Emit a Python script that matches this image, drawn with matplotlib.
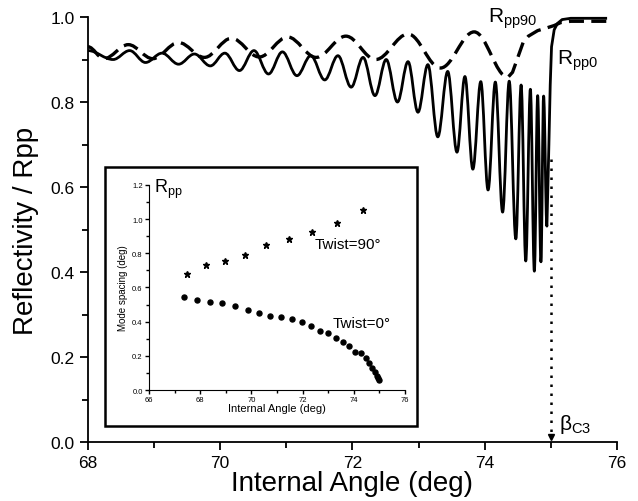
import numpy as np
import matplotlib
matplotlib.use("Agg")
import matplotlib.pyplot as plt
from matplotlib.path import Path
from matplotlib.patches import PathPatch, Rectangle

plt.rcParams['font.family'] = ['Liberation Sans', 'DejaVu Sans']

# main curve Rpp0 : peaks / troughs
rpp0_x = [68.00, 68.38, 68.63, 68.87, 69.12, 69.37, 69.61, 69.85, 70.07, 70.29,
          70.51, 70.73, 70.94, 71.16, 71.37, 71.58, 71.78, 71.98, 72.16, 72.34,
          72.51, 72.68, 72.84, 72.99, 73.14, 73.29, 73.44, 73.58, 73.70, 73.82,
          73.94, 74.05, 74.16, 74.27, 74.37, 74.47, 74.55, 74.62, 74.69, 74.75,
          74.80, 74.85, 74.89, 74.94]
rpp0_y = [0.921, 0.900, 0.921, 0.893, 0.915, 0.889, 0.913, 0.885, 0.915, 0.874,
          0.921, 0.866, 0.918, 0.862, 0.909, 0.852, 0.909, 0.835, 0.905, 0.815,
          0.900, 0.800, 0.895, 0.776, 0.888, 0.718, 0.872, 0.682, 0.860, 0.642,
          0.848, 0.593, 0.847, 0.541, 0.849, 0.478, 0.840, 0.426, 0.830, 0.402,
          0.815, 0.424, 0.814, 0.508]
rpp0_tail_x = [74.97, 74.99, 75.01, 75.05, 75.10, 75.17, 75.30, 75.85]
rpp0_tail_y = [0.700, 0.840, 0.930, 0.970, 0.985, 0.994, 0.997, 0.997]

# Rpp90 (dashed)
rpp90_x = [68.00, 68.24, 68.61, 68.98, 69.37, 69.76, 70.17, 70.59, 71.02, 71.45,
           71.90, 72.35, 72.84, 73.33, 73.84, 74.35]
rpp90_y = [0.930, 0.902, 0.935, 0.902, 0.940, 0.905, 0.950, 0.906, 0.953, 0.905,
           0.955, 0.900, 0.960, 0.880, 0.965, 0.858]
rpp90_tail_x = [74.42, 74.50, 74.58, 74.66, 74.80, 74.95, 75.05, 75.15, 75.30, 75.85]
rpp90_tail_y = [0.870, 0.905, 0.940, 0.955, 0.968, 0.975, 0.980, 0.987, 0.990, 0.990]

beta_c3 = 75.0

# inset: mode spacing
tw90_x = [67.49, 68.24, 68.98, 69.76, 70.59, 71.45, 72.35, 73.33, 74.35]
tw90_y = [0.678, 0.731, 0.754, 0.789, 0.848, 0.883, 0.924, 0.977, 1.053]
tw0_x = [67.37, 67.89, 68.38, 68.87, 69.37, 69.85, 70.29, 70.73, 71.16, 71.58,
         71.98, 72.34, 72.68, 72.99, 73.29, 73.58, 73.82, 74.05, 74.27, 74.47,
         74.60, 74.73, 74.82, 74.89, 74.95, 74.99]
tw0_y = [0.545, 0.525, 0.518, 0.509, 0.490, 0.467, 0.453, 0.433, 0.429, 0.415,
         0.399, 0.377, 0.345, 0.333, 0.304, 0.279, 0.260, 0.224, 0.216, 0.185,
         0.158, 0.129, 0.104, 0.084, 0.070, 0.058]


def wave_path(xs, ys, tx, ty, k=0.36):
    # smooth curve through extrema (horizontal tangent at each), then straight tail
    verts = [(xs[0], ys[0])]
    codes = [Path.MOVETO]
    for i in range(1, len(xs)):
        d = (xs[i] - xs[i-1]) * k
        verts += [(xs[i-1] + d, ys[i-1]), (xs[i] - d, ys[i]), (xs[i], ys[i])]
        codes += [Path.CURVE4] * 3
    for x, y in zip(tx, ty):
        verts.append((x, y))
        codes.append(Path.LINETO)
    return Path(verts, codes)


fig = plt.figure(figsize=(6.38, 5.02), dpi=100)
ax = fig.add_axes([0.1379, 0.1175, 0.8292, 0.8466])

p0 = PathPatch(wave_path(rpp0_x, rpp0_y, rpp0_tail_x, rpp0_tail_y),
               fill=False, lw=2.0, ec='k', joinstyle='round', clip_on=False)
p90 = PathPatch(wave_path(rpp90_x, rpp90_y, rpp90_tail_x, rpp90_tail_y),
                fill=False, lw=2.4, ec='k', ls=(0, (4.5, 2.2)), clip_on=False)
ax.add_patch(p0)
ax.add_patch(p90)

ax.plot([beta_c3, beta_c3], [0.665, 0.02], color='k', ls=(0, (1, 2.6)), lw=1.8)
ax.plot([beta_c3], [0.012], marker='v', color='k', ms=4)

ax.set_xlim(68, 76)
ax.set_ylim(0, 1.0)
ax.set_xticks([68, 70, 72, 74, 76])
ax.set_xticks([69, 71, 73, 75], minor=True)
ax.set_yticks([0.0, 0.2, 0.4, 0.6, 0.8, 1.0])
ax.set_yticks([0.1, 0.3, 0.5, 0.7, 0.9], minor=True)
ax.yaxis.set_major_formatter(plt.FormatStrFormatter('%.1f'))
ax.tick_params(which='major', direction='out', length=6, width=1.3, labelsize=12.5)
ax.tick_params(which='minor', direction='out', length=4.5, width=1.3)
ax.spines['top'].set_visible(False)
ax.spines['right'].set_visible(False)
ax.spines['left'].set_linewidth(1.3)
ax.spines['bottom'].set_linewidth(1.3)
ax.set_xlabel('Internal Angle (deg)', fontsize=20, labelpad=0)
ax.set_ylabel('Reflectivity / Rpp', fontsize=20, labelpad=8)

ax.text(74.05, 0.99, r'R$_{\mathregular{pp90}}$', fontsize=15, clip_on=False)
ax.text(75.10, 0.89, r'R$_{\mathregular{pp0}}$', fontsize=15)
ax.text(75.13, 0.03, r'β$_{\mathregular{C3}}$', fontsize=15)

# inset frame
fig.patches.append(Rectangle((0.1646, 0.1494), 0.489, 0.516, transform=fig.transFigure,
                             fill=False, lw=1.8, ec='k'))

ax2 = fig.add_axes([0.2335, 0.2211, 0.4013, 0.4084])
ax2.set_zorder(3)
ax2.patch.set_alpha(0)
ax2.plot(tw90_x, tw90_y, ls='none', marker='*', ms=4.5, color='k')
ax2.plot(tw0_x, tw0_y, ls='none', marker='o', ms=3.6, color='k')
ax2.set_xlim(66, 76)
ax2.set_ylim(0, 1.2)
ax2.set_xticks(np.arange(66, 77, 2))
ax2.set_xticks(np.arange(67, 76, 2), minor=True)
ax2.set_yticks(np.arange(0, 1.21, 0.2))
ax2.set_yticks(np.arange(0.1, 1.2, 0.2), minor=True)
ax2.yaxis.set_major_formatter(plt.FormatStrFormatter('%.1f'))
ax2.tick_params(which='major', direction='out', length=3, width=1, labelsize=5.5, pad=1.5)
ax2.tick_params(which='minor', direction='out', length=2, width=1)
ax2.spines['top'].set_visible(False)
ax2.spines['right'].set_visible(False)
ax2.set_xlabel('Internal Angle (deg)', fontsize=8, labelpad=0)
ax2.set_ylabel('Mode spacing (deg)', fontsize=7, labelpad=3)
ax2.text(66.2, 1.18, r'R$_{\mathregular{pp}}$', fontsize=13, va='center')
ax2.text(72.47, 0.854, 'Twist=90°', fontsize=11, va='center')
ax2.text(73.18, 0.39, 'Twist=0°', fontsize=11, va='center')

fig.savefig('out.png', dpi=100)
